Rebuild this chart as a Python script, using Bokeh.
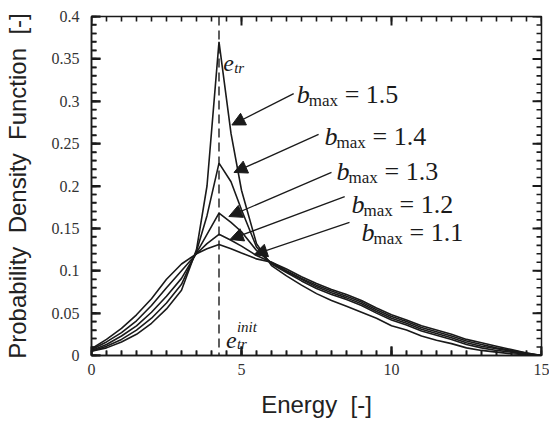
from bokeh.plotting import figure
from bokeh.models import (ColumnDataSource, Range1d, FixedTicker, Label,
                          Arrow, NormalHead, Span)
from bokeh.embed import file_html
from bokeh.resources import INLINE

# ---------------- data ----------------
energy = [0, 0.5, 1, 1.5, 2, 2.5, 3, 3.5, 3.85, 4.25, 4.65, 5, 5.5, 6, 6.5, 7, 7.5, 8,
          8.5, 9, 9.5, 10, 10.5, 11, 11.5, 12, 12.5, 13, 13.5, 14, 14.5, 15]

pdf_b11 = [0.008, 0.019, 0.032, 0.048, 0.067, 0.090, 0.108, 0.120, 0.126, 0.131, 0.126, 0.121, 0.114,
           0.110, 0.102, 0.093, 0.085, 0.078, 0.072, 0.065, 0.056, 0.048, 0.042, 0.035, 0.030,
           0.025, 0.019, 0.015, 0.011, 0.007, 0.003, 0.000]
pdf_b12 = [0.007, 0.016, 0.027, 0.041, 0.059, 0.080, 0.100, 0.120, 0.132, 0.143, 0.136, 0.129, 0.118,
           0.110, 0.100, 0.091, 0.083, 0.076, 0.070, 0.063, 0.054, 0.046, 0.040, 0.033, 0.028,
           0.023, 0.017, 0.013, 0.009, 0.006, 0.003, 0.000]
pdf_b13 = [0.006, 0.013, 0.023, 0.035, 0.051, 0.070, 0.091, 0.121, 0.143, 0.168, 0.157, 0.146, 0.124,
           0.109, 0.099, 0.090, 0.081, 0.074, 0.068, 0.061, 0.052, 0.044, 0.038, 0.031, 0.026,
           0.021, 0.015, 0.011, 0.008, 0.005, 0.002, 0.000]
pdf_b14 = [0.005, 0.011, 0.019, 0.030, 0.044, 0.062, 0.084, 0.123, 0.165, 0.227, 0.205, 0.172, 0.128,
           0.108, 0.098, 0.088, 0.079, 0.072, 0.066, 0.059, 0.050, 0.042, 0.036, 0.029, 0.024,
           0.019, 0.013, 0.009, 0.006, 0.004, 0.001, 0.000]
pdf_b15 = [0.005, 0.009, 0.016, 0.025, 0.038, 0.055, 0.077, 0.125, 0.200, 0.370, 0.262, 0.195, 0.132,
           0.106, 0.094, 0.083, 0.073, 0.065, 0.058, 0.051, 0.044, 0.035, 0.030, 0.023, 0.018,
           0.014, 0.009, 0.006, 0.004, 0.002, 0.001, 0.000]

b_max_values = ["1.5", "1.4", "1.3", "1.2", "1.1"]
e_tr_init = 4.25

x_ticks = [0, 5, 10, 15]
x_tick_labels = ["0", "5", "10", "15"]
y_ticks = [0, 0.05, 0.1, 0.15, 0.2, 0.25, 0.3, 0.35, 0.4]
y_tick_labels = ["0", "0.05", "0.1", "0.15", "0.2", "0.25", "0.3", "0.35", "0.4"]

X_MIN, X_MAX = 0, 15
Y_MIN, Y_MAX = 0, 0.4

# ---------------- layout / style ----------------
INK = "#1a1a1a"
SERIF = "Liberation Serif"
SANS = "Liberation Sans"
NB = "\u00a0"

W, H = 549, 424
B_LEFT, B_RIGHT, B_TOP, B_BOTTOM = 89, 8, 16, 69
FRAME_W = W - B_LEFT - B_RIGHT
FRAME_H = H - B_TOP - B_BOTTOM

p = figure(width=W, height=H, x_range=Range1d(X_MIN, X_MAX), y_range=Range1d(Y_MIN, Y_MAX),
           output_backend="svg", toolbar_location=None,
           min_border_left=B_LEFT, min_border_right=B_RIGHT,
           min_border_top=B_TOP, min_border_bottom=B_BOTTOM)
p.background_fill_color = "white"
p.border_fill_color = "white"
p.outline_line_color = INK
p.outline_line_width = 1.5
p.xgrid.visible = False
p.ygrid.visible = False

x_minor = [i * 0.5 for i in range(31)]
y_minor = [i * 0.01 for i in range(41)]

for ax, ticks, minor, labels in ((p.xaxis[0], x_ticks, x_minor, x_tick_labels),
                                 (p.yaxis[0], y_ticks, y_minor, y_tick_labels)):
    ax.ticker = FixedTicker(ticks=ticks, minor_ticks=minor)
    ax.major_tick_in = 9
    ax.major_tick_out = 0
    ax.minor_tick_in = 5
    ax.minor_tick_out = 0
    ax.major_tick_line_color = INK
    ax.minor_tick_line_color = INK
    ax.major_tick_line_width = 2
    ax.minor_tick_line_width = 1.6
    ax.axis_line_color = INK
    ax.axis_line_width = 1.5
    ax.major_label_overrides = {t: l for t, l in zip(ticks, labels)}
    ax.major_label_text_font = SERIF
    ax.major_label_text_font_size = "16px"
    ax.major_label_text_color = "#333333"
    ax.axis_label_text_font = SANS
    ax.axis_label_text_font_style = "normal"
    ax.axis_label_text_font_size = "24px"
    ax.axis_label_text_color = "#222222"

p.xaxis[0].major_label_standoff = 8
p.yaxis[0].major_label_standoff = 12
p.xaxis[0].axis_label = "Energy" + NB + NB + "[-]"
p.yaxis[0].axis_label = NB.join(["Probability", "", "Density", "", "Function", "", "[-]"])
p.xaxis[0].axis_label_standoff = 13
p.yaxis[0].axis_label_standoff = 18

# inward ticks on all four sides, drawn as thin filled rectangles
PX_X = (X_MAX - X_MIN) / FRAME_W   # data units per pixel, x
PX_Y = (Y_MAX - Y_MIN) / FRAME_H   # data units per pixel, y


def tick_quads(xpos, ypos, length_px, width_px):
    left, right, bottom, top = [], [], [], []
    hx = 0.5 * width_px * PX_X
    hy = 0.5 * width_px * PX_Y
    for t in xpos:
        left += [t - hx, t - hx]
        right += [t + hx, t + hx]
        bottom += [Y_MIN, Y_MAX - length_px * PX_Y]
        top += [Y_MIN + length_px * PX_Y, Y_MAX]
    for t in ypos:
        left += [X_MIN, X_MAX - length_px * PX_X]
        right += [X_MIN + length_px * PX_X, X_MAX]
        bottom += [t - hy, t - hy]
        top += [t + hy, t + hy]
    p.quad(left=left, right=right, bottom=bottom, top=top,
           fill_color=INK, line_color=None)


tick_quads(x_ticks, y_ticks, 9, 2.0)
tick_quads(x_minor, y_minor, 5, 1.6)

# ---------------- curves ----------------
src = ColumnDataSource(dict(e=energy, b11=pdf_b11, b12=pdf_b12, b13=pdf_b13,
                            b14=pdf_b14, b15=pdf_b15))
for col in ["b11", "b12", "b13", "b14", "b15"]:
    p.line("e", col, source=src, line_color=INK, line_width=1.6)

p.add_layout(Span(location=e_tr_init, dimension="height", line_color=INK,
                  line_width=1.4, line_dash="9 5"))

# ---------------- annotations ----------------
label_x = [6.84, 7.77, 8.17, 8.67, 9.0]
label_y = [0.308, 0.258, 0.217, 0.178, 0.145]
arrow_x0 = [6.74, 7.57, 8.0, 8.44, 8.6]
arrow_y0 = [0.309, 0.261, 0.216, 0.1875, 0.157]
arrow_x1 = [4.68, 4.75, 4.58, 4.62, 5.42]
arrow_y1 = [0.272, 0.216, 0.164, 0.137, 0.119]

for bv, lx, ly, ax0, ay0, ax1, ay1 in zip(b_max_values, label_x, label_y,
                                          arrow_x0, arrow_y0, arrow_x1, arrow_y1):
    p.add_layout(Label(x=lx, y=ly, text="b", text_font=SERIF, text_font_style="italic",
                       text_font_size="26px", text_color=INK, text_baseline="alphabetic"))
    p.add_layout(Label(x=lx, y=ly, x_offset=12, y_offset=-6, text="max", text_font=SERIF,
                       text_font_size="17px", text_color=INK, text_baseline="alphabetic"))
    p.add_layout(Label(x=lx, y=ly, x_offset=48, y_offset=0, text="=" + NB + bv, text_font=SERIF,
                       text_font_size="26px", text_color=INK, text_baseline="alphabetic"))
    p.add_layout(Arrow(x_start=ax0, y_start=ay0, x_end=ax1, y_end=ay1,
                       line_color=INK, line_width=1.3,
                       end=NormalHead(size=13, fill_color=INK, line_color=INK)))

# e_tr near the peak
p.add_layout(Label(x=4.39, y=0.345, text="e", text_font=SERIF, text_font_style="italic",
                   text_font_size="24px", text_color=INK, text_baseline="alphabetic"))
p.add_layout(Label(x=4.39, y=0.345, x_offset=11, y_offset=-5, text="tr", text_font=SERIF,
                   text_font_style="italic", text_font_size="15px", text_color=INK,
                   text_baseline="alphabetic"))
# e_tr^init near the bottom
p.add_layout(Label(x=4.48, y=0.018, text="e", text_font=SERIF, text_font_style="italic",
                   text_font_size="24px", text_color=INK, text_baseline="alphabetic"))
p.add_layout(Label(x=4.48, y=0.018, x_offset=11, y_offset=-4, text="tr", text_font=SERIF,
                   text_font_style="italic", text_font_size="15px", text_color=INK,
                   text_baseline="alphabetic"))
p.add_layout(Label(x=4.48, y=0.018, x_offset=11, y_offset=13, text="init", text_font=SERIF,
                   text_font_style="italic", text_font_size="15px", text_color=INK,
                   text_baseline="alphabetic"))

open("out.html", "w").write(file_html(p, INLINE))
